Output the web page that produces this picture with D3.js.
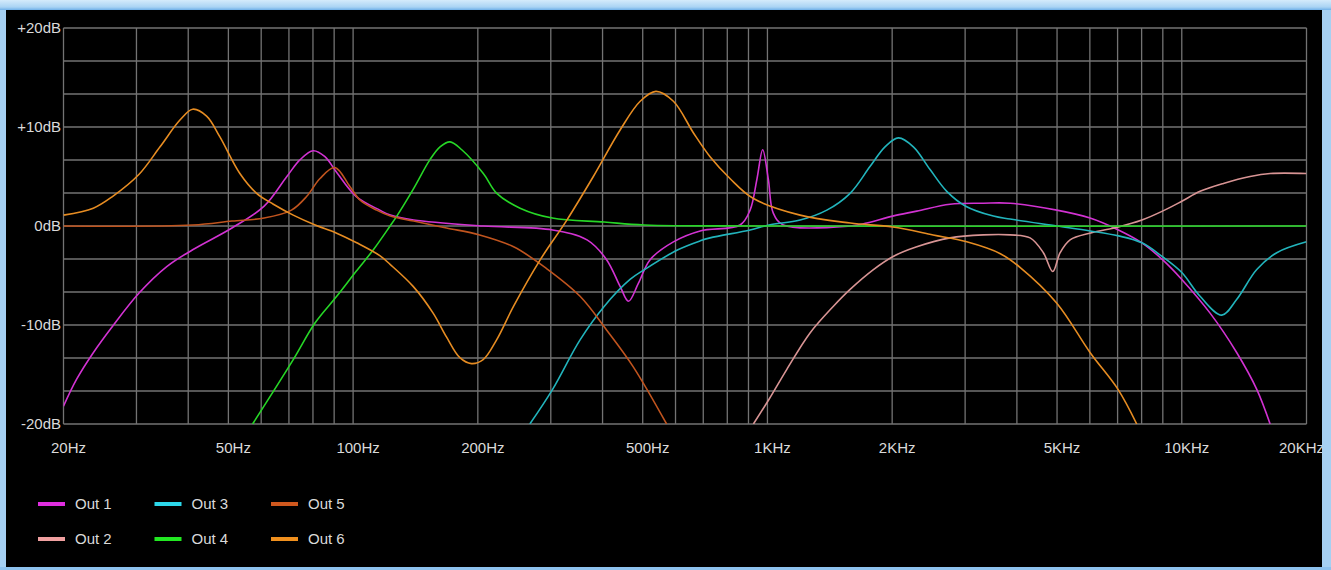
<!DOCTYPE html>
<head>
<meta charset="utf-8">
<title>Output EQ response</title>
<style>
  body { margin: 0; padding: 0; background: #000; overflow: hidden; }
  svg text { font-family: 'Liberation Sans', Arial, sans-serif; fill: #dadada; font-size: 15px; }
  .grid line { stroke: #737373; stroke-width: 1.3; }
  .curve { fill: none; stroke-width: 1.6; stroke-linejoin: round; }
</style>
</head>
<body>
<div id="vis"></div>
<script src="https://cdn.jsdelivr.net/npm/d3@7"></script>
<script>
// axis ticks
var freqTicks  = [20, 50, 100, 200, 500, 1000, 2000, 5000, 10000, 20000];
var freqLabels = ['20Hz', '50Hz', '100Hz', '200Hz', '500Hz', '1KHz', '2KHz', '5KHz', '10KHz', '20KHz'];
var gridFreqs  = [20, 30, 40, 50, 60, 70, 80, 90, 100, 200, 300, 400, 500, 600, 700, 800, 900,
                  1000, 2000, 3000, 4000, 5000, 6000, 7000, 8000, 9000, 10000, 20000];
var dbTicks  = [20, 10, 0, -10, -20];
var dbLabels = ['+20dB', '+10dB', '0dB', '-10dB', '-20dB'];

// series: [Hz, dB]
var names       = ['Out 1', 'Out 2', 'Out 3', 'Out 4', 'Out 5', 'Out 6'];
var colors      = ['#e02ee0', '#f0a0a0', '#2cd8ea', '#22e822', '#d0581e', '#f0901e'];
var curveColors = ['#d232d2', '#d89494', '#22b4bc', '#26d626', '#c0541e', '#e68c22'];

var out1 = [[20,-18.2],[21.5,-15.5],[23.6,-12.8],[26.3,-10.1],[30.4,-6.8],[35.5,-4.1],[41,-2.4],
  [51,-0.2],[61,2.0],[69.2,5.0],[74.5,6.7],[80.1,7.6],[85.5,7.0],[91.3,5.4],[101.6,3.0],[116,1.6],
  [123,1.1],[140,0.6],[206,0],[303,-0.4],[367,-1.4],[409,-3.4],[441,-6.1],[462,-7.6],[488,-5.8],
  [521,-3.4],[593,-1.6],[688,-0.5],[859,0.1],[908,1.6],[943,4.7],[974,7.7],[1005,4.7],[1033,1.3],
  [1092,0.1],[1581,0],[1737,0.3],[2006,1.0],[2293,1.5],[2759,2.2],[3321,2.3],[3851,2.3],[4993,1.6],
  [6006,0.8],[7031,-0.4],[8012,-1.7],[8983,-3.4],[10001,-5.4],[11705,-8.8],[13578,-12.8],
  [15170,-16.5],[16340,-20]];

var out2 = [[925,-20],[1009,-17.5],[1113,-14.5],[1267,-10.8],[1443,-8.1],[1583,-6.4],[1802,-4.4],
  [2006,-3.1],[2293,-2.1],[2759,-1.2],[3321,-0.9],[3851,-0.9],[4305,-1.2],[4634,-2.7],[4883,-4.6],
  [5086,-2.7],[5376,-1.4],[6031,-0.7],[7031,-0.1],[8012,0.6],[8983,1.5],[10001,2.5],[11071,3.5],
  [12604,4.3],[14617,5.0],[16340,5.3],[20000,5.3]];

var out3 = [[267,-20],[303,-16.5],[353,-11.5],[404,-8.1],[466,-5.4],[505,-4.4],[608,-2.4],[688,-1.5],
  [727,-1.2],[908,-0.4],[1009,0.1],[1199,0.6],[1391,1.6],[1583,3.3],[1768,6.0],[1922,8.0],[2071,8.9],
  [2250,8.0],[2469,5.7],[2709,3.5],[3010,2.0],[3510,1.0],[3851,0.7],[4993,0],[6011,-0.5],[7031,-1.0],
  [8012,-1.7],[8983,-3.1],[10001,-4.7],[11071,-7.1],[12491,-9.0],[13578,-7.4],[15170,-4.4],
  [16954,-2.7],[20000,-1.6]];

var out4 = [[57.2,-20],[71.7,-13.5],[80.9,-9.8],[91.3,-7.1],[101.6,-4.6],[111.9,-2.4],[122.8,0],
  [127.5,1.0],[139.6,3.7],[153.3,6.7],[162.1,8.0],[171.4,8.5],[182.9,7.7],[206.2,5.3],[222.2,3.3],
  [252.9,1.8],[302.6,0.8],[403.5,0.4],[504.5,0.1],[1000,0],[20000,0]];

var out5 = [[20,0],[41,0.1],[51,0.5],[61,0.8],[71,1.6],[77.3,3.0],[83.2,4.8],[90.4,5.9],[98.2,4.0],
  [104,2.6],[114,1.6],[123,1.0],[140,0.5],[168,-0.2],[202,-0.9],[244,-2.1],[293,-4.3],[353,-7.1],
  [409,-10.5],[474,-14.2],[571,-20]];

var out6 = [[20,1.1],[23.6,1.8],[26.3,3.0],[30.4,5.2],[34.2,8.0],[38.2,10.7],[41,11.8],[44.3,11.1],
  [47.7,9.0],[53.3,5.3],[58.5,3.3],[64.2,2.2],[71.7,1.1],[81,0.1],[91,-0.7],[102,-1.7],[116,-3.0],
  [123,-3.9],[139.6,-6.1],[156,-8.8],[168,-11.2],[181,-13.3],[193,-13.9],[206,-13.5],[222,-11.5],
  [244,-8.1],[283,-3.4],[328,0.6],[380,5.0],[441,9.7],[493,12.6],[538,13.6],[593,12.6],[663,9.4],
  [727,7.0],[812,4.8],[923,2.8],[1199,1.1],[1585,0.3],[2006,-0.1],[2511,-0.9],[3027,-1.6],
  [3649,-2.8],[4076,-4.2],[4994,-7.8],[6011,-12.8],[7016,-16.5],[7786,-20]];

var series = [out1, out2, out3, out4, out5, out6];

var W = 1331, H = 570;
var svg = d3.select('#vis').append('svg').attr('width', W).attr('height', H);

svg.append('rect').attr('width', W).attr('height', H).attr('fill', '#000');

var x = d3.scaleLog().domain([20, 20000]).range([63.5, 1306.5]);
var y = d3.scaleLinear().domain([-20, 20]).range([424, 28]);

var defs = svg.append('defs');
defs.append('clipPath').attr('id', 'plot').append('rect')
  .attr('x', x(20)).attr('y', y(20))
  .attr('width', x(20000) - x(20)).attr('height', y(-20) - y(20));

// grid, 12 steps on the dB axis
var grid = svg.append('g').attr('class', 'grid');
grid.selectAll('.h').data(d3.range(0, 13)).enter().append('line')
  .attr('x1', x(20)).attr('x2', x(20000))
  .attr('y1', function(i) { return y(-20 + i * 10 / 3); })
  .attr('y2', function(i) { return y(-20 + i * 10 / 3); });
grid.selectAll('.v').data(gridFreqs).enter().append('line')
  .attr('x1', function(d) { return x(d); }).attr('x2', function(d) { return x(d); })
  .attr('y1', y(20)).attr('y2', y(-20));

// y labels
svg.append('g').selectAll('text').data(dbTicks).enter().append('text')
  .attr('x', 61).attr('y', function(d) { return y(d) - 1; })
  .attr('text-anchor', 'end').attr('dominant-baseline', 'central')
  .text(function(d, i) { return dbLabels[i]; });

// x labels (last one pushed against the window edge)
svg.append('g').selectAll('text').data(freqTicks).enter().append('text')
  .attr('y', 447).attr('dominant-baseline', 'central')
  .text(function(d, i) { return freqLabels[i]; })
  .attr('x', function(d) {
    var w = this.getComputedTextLength();
    return Math.min(x(d) + 5 - w / 2, 1324 - w);
  });

// curves
var line = d3.line()
  .x(function(d) { return x(d[0]); })
  .y(function(d) { return y(d[1]); })
  .curve(d3.curveCatmullRom.alpha(0.5));

svg.append('g').attr('clip-path', 'url(#plot)')
  .selectAll('path').data(series).enter().append('path')
  .attr('class', 'curve')
  .attr('stroke', function(d, i) { return curveColors[i]; })
  .attr('d', line);

// legend
var leg = svg.append('g').selectAll('g').data(names).enter().append('g')
  .attr('transform', function(d, i) {
    return 'translate(' + (38 + Math.floor(i / 2) * 116.5) + ',' + (504 + (i % 2) * 35) + ')';
  });
leg.append('line').attr('x1', 0).attr('x2', 27).attr('y1', 0).attr('y2', 0)
  .attr('stroke', function(d, i) { return colors[i]; }).attr('stroke-width', 4);
leg.append('text').attr('x', 37).attr('y', -1).attr('dominant-baseline', 'central')
  .text(function(d) { return d; });

// window frame
var grad = defs.append('linearGradient').attr('id', 'top')
  .attr('x1', 0).attr('y1', 0).attr('x2', 0).attr('y2', 1);
grad.append('stop').attr('offset', 0).attr('stop-color', '#d4ebfb');
grad.append('stop').attr('offset', 0.7).attr('stop-color', '#aad4f4');
grad.append('stop').attr('offset', 1).attr('stop-color', '#6fb0e8');
svg.append('rect').attr('x', 0).attr('y', 0).attr('width', W).attr('height', 10).attr('fill', 'url(#top)');
svg.append('rect').attr('x', 0).attr('y', 10).attr('width', 6).attr('height', H - 10).attr('fill', '#a6d0f2');
svg.append('rect').attr('x', 1322).attr('y', 10).attr('width', 9).attr('height', H - 10).attr('fill', '#a6d0f2');
svg.append('rect').attr('x', 0).attr('y', 567).attr('width', W).attr('height', 3).attr('fill', '#8ec2ee');
</script>
</body>
